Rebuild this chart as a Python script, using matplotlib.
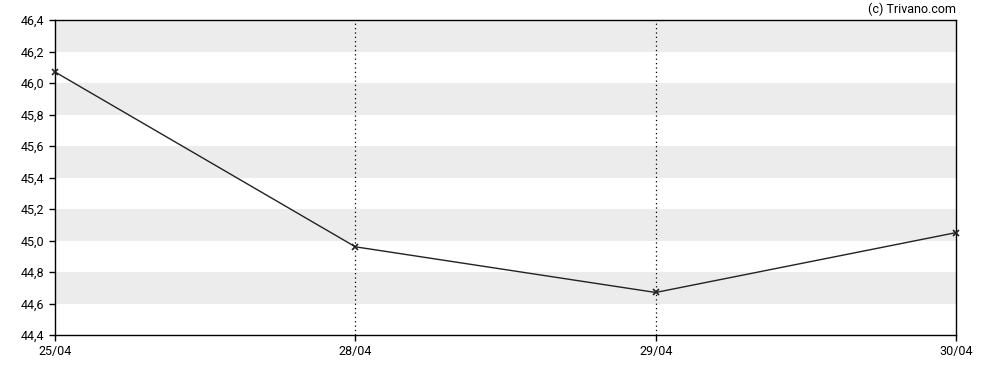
import matplotlib
matplotlib.use("Agg")
import matplotlib.pyplot as plt

dates = ["25/04", "28/04", "29/04", "30/04"]
prices = [46.07, 44.96, 44.67, 45.05]
yticks = [44.4, 44.6, 44.8, 45.0, 45.2, 45.4, 45.6, 45.8, 46.0, 46.2, 46.4]

plt.rcParams['font.family'] = ['Roboto', 'DejaVu Sans']

fig = plt.figure(figsize=(9.88, 3.7), dpi=100)
ax = fig.add_axes([55 / 988, 1 - 335 / 370, 901 / 988, 315 / 370])

# grey bands every other 0.2
for lo in yticks[1:-1:2]:
    ax.axhspan(lo, lo + 0.2, color="#ececec", lw=0, zorder=0)

x = list(range(len(dates)))
for xi in x[1:-1]:
    ax.axvline(xi, color="black", lw=0.9, ls=(0, (1, 2.5)), zorder=1)

ax.plot(x, prices, color="#222222", lw=1, marker="x", ms=4, mew=1.2,
        zorder=3, clip_on=False)

ax.set_xlim(0, len(dates) - 1)
ax.set_ylim(44.4, 46.4)
ax.set_xticks(x)
ax.set_xticklabels(dates)
ax.set_yticks(yticks)
ax.set_yticklabels([f"{v:.1f}".replace(".", ",") for v in yticks])
ax.tick_params(labelsize=9, length=4, width=1, color="black")
for s in ax.spines.values():
    s.set_linewidth(1)

fig.text(956 / 988, 1 - 9 / 370, "(c) Trivano.com", ha="right", va="center", fontsize=9)

fig.savefig("out.png", dpi=100)
